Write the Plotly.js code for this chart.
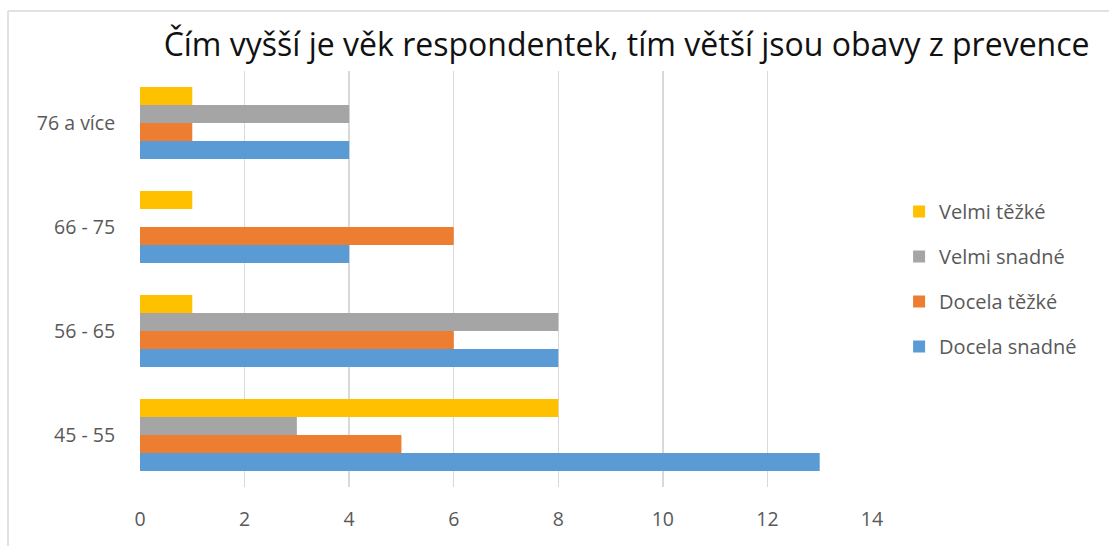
<!DOCTYPE html>
<html>
<head>
<meta charset="utf-8">
<script src="https://cdn.plot.ly/plotly-3.0.1.min.js"></script>
<style>
html,body{margin:0;padding:0;background:#fff;}
#chart{width:1109px;height:546px;}
</style>
</head>
<body>
<div id="chart"></div>
<script>
var categories = ["45 - 55", "56 - 65", "66 - 75", "76 a více"];
var docelaSnadne = [13, 8, 4, 4];
var docelaTezke = [5, 6, 6, 1];
var velmiSnadne = [3, 8, 0, 4];
var velmiTezke = [8, 1, 1, 1];
var seriesNames = ["Docela snadné", "Docela těžké", "Velmi snadné", "Velmi těžké"];
var seriesColors = ["#5B9BD5", "#ED7D31", "#A5A5A5", "#FFC000"];
var xTicks = [0, 2, 4, 6, 8, 10, 12, 14];
var titleText = "Čím vyšší je věk respondentek, tím větší jsou obavy z prevence";

var FONT = "'Open Sans', Lato, sans-serif";
var seriesValues = [docelaSnadne, docelaTezke, velmiSnadne, velmiTezke];
var traces = seriesValues.map(function (vals, i) {
  return {
    type: "bar",
    orientation: "h",
    y: categories,
    x: vals,
    name: seriesNames[i],
    legendgroup: "g" + i,
    legendrank: 1000 - i,
    marker: {color: seriesColors[i], line: {width: 0}},
    hoverinfo: "x+y+name"
  };
});

var L = 140, R = 237, T = 71, B = 59;
var pw = 1109 - L - R, ph = 546 - T - B;
var bx = (8 - L) / pw, by = (546 - B - 11) / ph;

var layout = {
  width: 1109,
  height: 546,
  margin: {l: L, r: R, t: T, b: B, pad: 0},
  paper_bgcolor: "#ffffff",
  plot_bgcolor: "#ffffff",
  font: {family: FONT, color: "#595959", size: 19.5},
  title: {
    text: titleText,
    font: {family: FONT, size: 32, color: "#111111"},
    xref: "container", yref: "container",
    x: 0.565, xanchor: "center",
    y: 1 - 45 / 546, yanchor: "middle"
  },
  barmode: "group",
  bargap: 0.31,
  bargroupgap: 0,
  xaxis: {
    range: [0, 14],
    tickvals: xTicks,
    ticktext: xTicks.map(String),
    showgrid: true,
    gridcolor: "#D9D9D9",
    gridwidth: 1.5,
    zeroline: false,
    showline: false,
    ticks: "outside",
    ticklen: 15,
    tickcolor: "rgba(0,0,0,0)",
    fixedrange: true
  },
  yaxis: {
    type: "category",
    categoryorder: "array",
    categoryarray: categories,
    showgrid: false,
    zeroline: false,
    showline: false,
    ticks: "outside",
    ticklen: 20,
    tickcolor: "rgba(0,0,0,0)",
    fixedrange: true
  },
  legend: {
    x: 1.037, xanchor: "left",
    y: 0.5, yanchor: "middle",
    traceorder: "grouped",
    tracegroupgap: 16,
    font: {family: FONT, size: 20, color: "#595959"},
    bgcolor: "rgba(0,0,0,0)"
  },
  shapes: [
    {type: "line", xref: "paper", yref: "paper", x0: bx, x1: bx, y0: -1, y1: by,
     line: {color: "#D9D9D9", width: 1.5}},
    {type: "line", xref: "paper", yref: "paper", x0: bx, x1: 3, y0: by, y1: by,
     line: {color: "#D9D9D9", width: 1.5}}
  ],
  showlegend: true
};

Plotly.newPlot("chart", traces, layout, {displayModeBar: false, staticPlot: true});
</script>
</body>
</html>
